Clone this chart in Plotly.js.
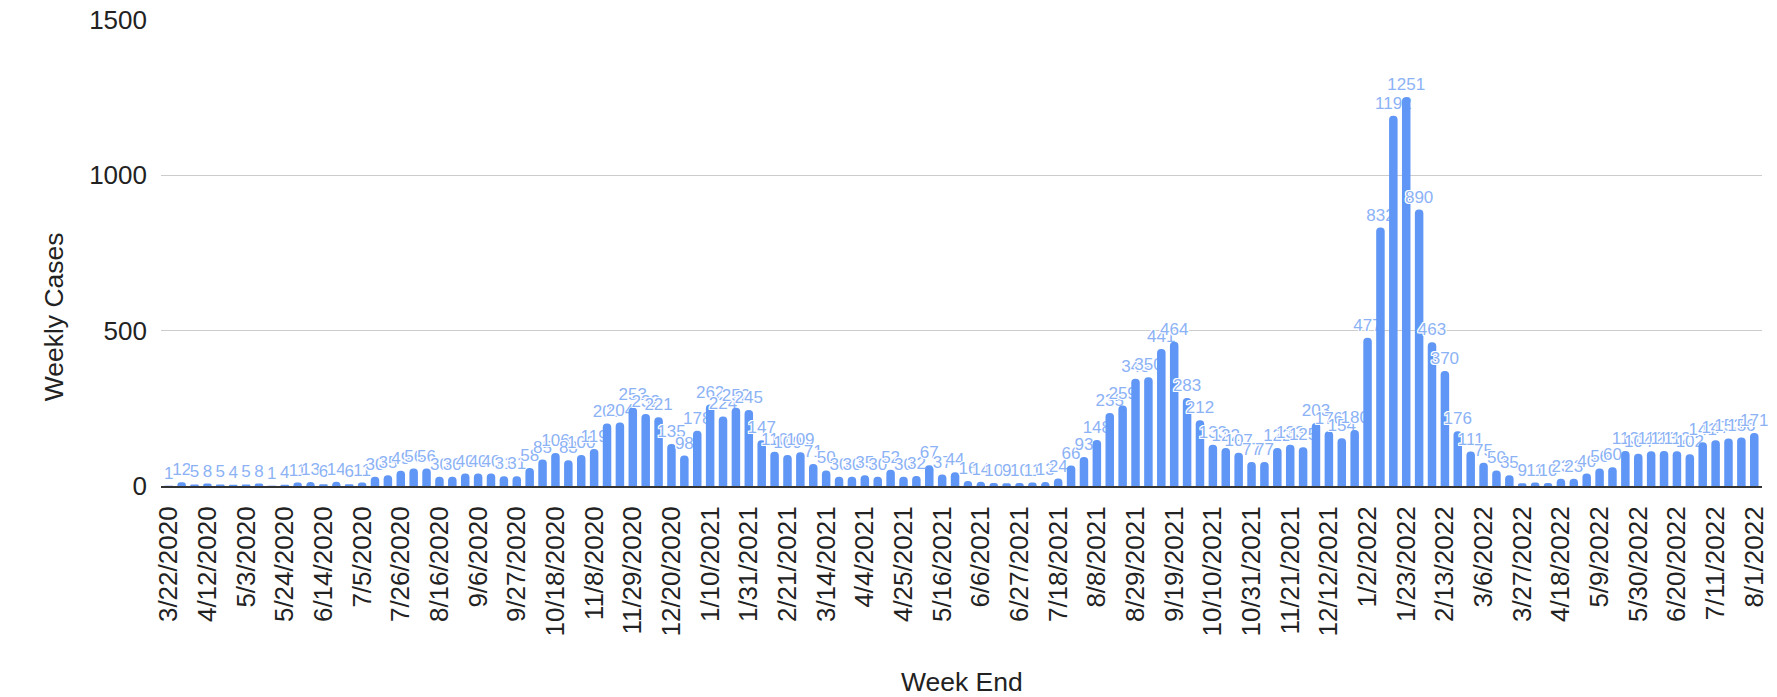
<!DOCTYPE html>
<html>
<head>
<meta charset="utf-8">
<script src="https://cdn.plot.ly/plotly-3.0.1.min.js"></script>
<style>
  html, body { margin: 0; padding: 0; background: #ffffff; }
  #chart { width: 1777px; height: 697px; }
</style>
</head>
<body>
<div id="chart"></div>
<script>
const weekEnd = [
  "3/22/2020","3/29/2020","4/5/2020","4/12/2020","4/19/2020","4/26/2020","5/3/2020","5/10/2020","5/17/2020","5/24/2020",
  "5/31/2020","6/7/2020","6/14/2020","6/21/2020","6/28/2020","7/5/2020","7/12/2020","7/19/2020","7/26/2020","8/2/2020",
  "8/9/2020","8/16/2020","8/23/2020","8/30/2020","9/6/2020","9/13/2020","9/20/2020","9/27/2020","10/4/2020","10/11/2020",
  "10/18/2020","10/25/2020","11/1/2020","11/8/2020","11/15/2020","11/22/2020","11/29/2020","12/6/2020","12/13/2020","12/20/2020",
  "12/27/2020","1/3/2021","1/10/2021","1/17/2021","1/24/2021","1/31/2021","2/7/2021","2/14/2021","2/21/2021","2/28/2021",
  "3/7/2021","3/14/2021","3/21/2021","3/28/2021","4/4/2021","4/11/2021","4/18/2021","4/25/2021","5/2/2021","5/9/2021",
  "5/16/2021","5/23/2021","5/30/2021","6/6/2021","6/13/2021","6/20/2021","6/27/2021","7/4/2021","7/11/2021","7/18/2021",
  "7/25/2021","8/1/2021","8/8/2021","8/15/2021","8/22/2021","8/29/2021","9/5/2021","9/12/2021","9/19/2021","9/26/2021",
  "10/3/2021","10/10/2021","10/17/2021","10/24/2021","10/31/2021","11/7/2021","11/14/2021","11/21/2021","11/28/2021","12/5/2021",
  "12/12/2021","12/19/2021","12/26/2021","1/2/2022","1/9/2022","1/16/2022","1/23/2022","1/30/2022","2/6/2022","2/13/2022",
  "2/20/2022","2/27/2022","3/6/2022","3/13/2022","3/20/2022","3/27/2022","4/4/2022","4/11/2022","4/18/2022","4/25/2022",
  "5/2/2022","5/9/2022","5/16/2022","5/23/2022","5/30/2022","6/6/2022","6/13/2022","6/20/2022","6/27/2022","7/4/2022",
  "7/11/2022","7/18/2022","7/25/2022","8/1/2022"
];

const weeklyCases = [
  1, 12, 5, 8, 5, 4, 5, 8, 1, 4,
  11, 13, 6, 14, 6, 11, 30, 35, 49, 56,
  56, 30, 30, 40, 40, 40, 31, 31, 58, 85,
  106, 83, 100, 119, 201, 204, 253, 232, 221, 135,
  98, 178, 262, 224, 252, 245, 147, 110, 100, 109,
  71, 50, 30, 30, 35, 30, 52, 30, 32, 67,
  37, 44, 16, 14, 10, 9, 10, 11, 13, 24,
  66, 93, 148, 235, 259, 345, 350, 441, 464, 283,
  212, 133, 122, 107, 77, 77, 122, 133, 125, 203,
  176, 154, 180, 477, 832, 1192, 1251, 890, 463, 370,
  176, 111, 75, 50, 35, 9, 11, 10, 23, 23,
  40, 56, 60, 113, 104, 112, 113, 112, 102, 141,
  147, 153, 156, 171
];

const tickLabels = [
  "3/22/2020","4/12/2020","5/3/2020","5/24/2020","6/14/2020","7/5/2020","7/26/2020","8/16/2020","9/6/2020","9/27/2020",
  "10/18/2020","11/8/2020","11/29/2020","12/20/2020","1/10/2021","1/31/2021","2/21/2021","3/14/2021","4/4/2021","4/25/2021",
  "5/16/2021","6/6/2021","6/27/2021","7/18/2021","8/8/2021","8/29/2021","9/19/2021","10/10/2021","10/31/2021","11/21/2021",
  "12/12/2021","1/2/2022","1/23/2022","2/13/2022","3/6/2022","3/27/2022","4/18/2022","5/9/2022","5/30/2022","6/20/2022",
  "7/11/2022","8/1/2022"
];

const yTicks = [0, 500, 1000, 1500];

const FONT = "Liberation Sans, Arial, sans-serif";
const halo = "1px 0 0 #fff, -1px 0 0 #fff, 0 1px 0 #fff, 0 -1px 0 #fff, 1px 1px 0 #fff, -1px -1px 0 #fff, 1px -1px 0 #fff, -1px 1px 0 #fff";

const trace = {
  type: "bar",
  x: weekEnd,
  y: weeklyCases,
  marker: { color: "#6096f5" },
  text: weeklyCases.map(String),
  textposition: "outside",
  textangle: 0,
  constraintext: "none",
  cliponaxis: false,
  textfont: { family: FONT, size: 17, color: "#8cb2f6", shadow: halo },
  hoverinfo: "x+y"
};

const layout = {
  width: 1777,
  height: 697,
  margin: { l: 161, r: 15, t: 20, b: 211 },
  paper_bgcolor: "#ffffff",
  plot_bgcolor: "#ffffff",
  bargap: 0.34,
  barcornerradius: 4,
  showlegend: false,
  font: { family: FONT, color: "#222222" },
  xaxis: {
    type: "category",
    categoryorder: "array",
    categoryarray: weekEnd,
    tickmode: "array",
    tickvals: tickLabels,
    ticktext: tickLabels,
    tickangle: -90,
    ticks: "",
    ticklabelstandoff: 8,
    tickfont: { family: FONT, size: 26, color: "#222222" },
    showgrid: false,
    showline: true,
    linecolor: "#333333",
    linewidth: 2,
    range: [-0.6, weekEnd.length - 0.4],
    automargin: false
  },
  yaxis: {
    range: [0, 1500],
    tickmode: "array",
    tickvals: yTicks,
    ticktext: yTicks.map(String),
    ticks: "",
    ticklabelstandoff: 13,
    tickfont: { family: FONT, size: 26, color: "#222222" },
    showgrid: true,
    gridcolor: "#cccccc",
    gridwidth: 1,
    zeroline: false,
    showline: false,
    automargin: false
  },
  annotations: [
    {
      text: "Weekly Cases",
      xref: "paper", yref: "paper",
      x: -0.0668, y: 0.362,
      xanchor: "center", yanchor: "middle",
      textangle: -90,
      showarrow: false,
      font: { family: FONT, size: 26.5, color: "#222222" }
    },
    {
      text: "Week End",
      xref: "paper", yref: "paper",
      x: 0.5, y: -0.4206,
      xanchor: "center", yanchor: "middle",
      showarrow: false,
      font: { family: FONT, size: 26.5, color: "#222222" }
    }
  ]
};

Plotly.newPlot("chart", [trace], layout, { staticPlot: true, displayModeBar: false });
</script>
</body>
</html>
